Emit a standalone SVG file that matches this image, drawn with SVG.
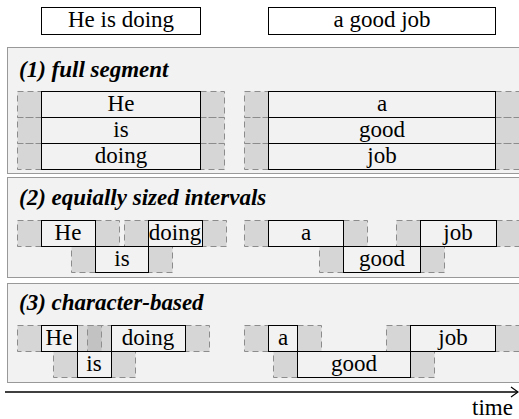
<svg xmlns="http://www.w3.org/2000/svg" width="519" height="419" viewBox="0 0 519 419">
<style>
.panel{fill:#f2f2f2;stroke:#999;stroke-width:1}
.pad{fill:rgb(150,150,150);fill-opacity:0.3;stroke:#8c8c8c;stroke-width:1;stroke-dasharray:6 4}
.w{fill:none;stroke:#000;stroke-width:1}
.top{fill:#fff;stroke:#000;stroke-width:1}
</style>
<rect width="519" height="419" fill="#fff"/>
<g id="sentence-left"><rect class="top" x="41.5" y="7.5" width="159" height="27"/><text font-family="Liberation Serif" font-size="23" text-anchor="middle" x="121" y="27">He is doing</text></g>
<g id="sentence-right"><rect class="top" x="268.5" y="7.5" width="227" height="27"/><text font-family="Liberation Serif" font-size="23" text-anchor="middle" x="382" y="27">a good job</text></g>

<g id="panel1">
<rect class="panel" x="7.5" y="47.5" width="530" height="126"/>
<text font-family="Liberation Serif" font-size="23" font-weight="bold" font-style="italic" x="19" y="77">(1) full segment</text>
<rect class="pad" x="17.5" y="91.5" width="24" height="26"/><rect class="pad" x="200.5" y="91.5" width="24" height="26"/>
<rect class="pad" x="17.5" y="117.5" width="24" height="26"/><rect class="pad" x="200.5" y="117.5" width="24" height="26"/>
<rect class="pad" x="17.5" y="143.5" width="24" height="26"/><rect class="pad" x="200.5" y="143.5" width="24" height="26"/>
<rect class="pad" x="244.5" y="91.5" width="24" height="26"/><rect class="pad" x="495.5" y="91.5" width="24" height="26"/>
<rect class="pad" x="244.5" y="117.5" width="24" height="26"/><rect class="pad" x="495.5" y="117.5" width="24" height="26"/>
<rect class="pad" x="244.5" y="143.5" width="24" height="26"/><rect class="pad" x="495.5" y="143.5" width="24" height="26"/>
<g id="p1-He"><rect class="w" x="41.5" y="91.5" width="159" height="26"/><text font-family="Liberation Serif" font-size="23" text-anchor="middle" x="121" y="111">He</text></g>
<g id="p1-is"><rect class="w" x="41.5" y="117.5" width="159" height="26"/><text font-family="Liberation Serif" font-size="23" text-anchor="middle" x="121" y="137">is</text></g>
<g id="p1-doing"><rect class="w" x="41.5" y="143.5" width="159" height="26"/><text font-family="Liberation Serif" font-size="23" text-anchor="middle" x="121" y="163">doing</text></g>
<g id="p1-a"><rect class="w" x="268.5" y="91.5" width="227" height="26"/><text font-family="Liberation Serif" font-size="23" text-anchor="middle" x="382" y="111">a</text></g>
<g id="p1-good"><rect class="w" x="268.5" y="117.5" width="227" height="26"/><text font-family="Liberation Serif" font-size="23" text-anchor="middle" x="382" y="137">good</text></g>
<g id="p1-job"><rect class="w" x="268.5" y="143.5" width="227" height="26"/><text font-family="Liberation Serif" font-size="23" text-anchor="middle" x="382" y="163">job</text></g>
</g>

<g id="panel2">
<rect class="panel" x="7.5" y="177.5" width="530" height="100"/>
<text font-family="Liberation Serif" font-size="23" font-weight="bold" font-style="italic" x="19" y="205">(2) equially sized intervals</text>
<rect class="pad" x="17.5" y="220.5" width="24" height="26"/><rect class="pad" x="95.5" y="220.5" width="24" height="26"/>
<rect class="pad" x="124.5" y="220.5" width="24" height="26"/><rect class="pad" x="202.5" y="220.5" width="24" height="26"/>
<rect class="pad" x="71.5" y="246.5" width="24" height="26"/><rect class="pad" x="148.5" y="246.5" width="24" height="26"/>
<rect class="pad" x="244.5" y="220.5" width="24" height="26"/><rect class="pad" x="343.5" y="220.5" width="24" height="26"/>
<rect class="pad" x="396.5" y="220.5" width="24" height="26"/><rect class="pad" x="496.5" y="220.5" width="24" height="26"/>
<rect class="pad" x="319.5" y="246.5" width="24" height="26"/><rect class="pad" x="420.5" y="246.5" width="24" height="26"/>
<g id="p2-He"><rect class="w" x="41.5" y="220.5" width="54" height="26"/><text font-family="Liberation Serif" font-size="23" text-anchor="middle" x="68" y="240">He</text></g>
<g id="p2-is"><rect class="w" x="95.5" y="246.5" width="53" height="26"/><text font-family="Liberation Serif" font-size="23" text-anchor="middle" x="122" y="266">is</text></g>
<g id="p2-doing"><rect class="w" x="148.5" y="220.5" width="54" height="26"/><text font-family="Liberation Serif" font-size="23" text-anchor="middle" x="175" y="240">doing</text></g>
<g id="p2-a"><rect class="w" x="268.5" y="220.5" width="75" height="26"/><text font-family="Liberation Serif" font-size="23" text-anchor="middle" x="306" y="240">a</text></g>
<g id="p2-good"><rect class="w" x="343.5" y="246.5" width="77" height="26"/><text font-family="Liberation Serif" font-size="23" text-anchor="middle" x="382" y="266">good</text></g>
<g id="p2-job"><rect class="w" x="420.5" y="220.5" width="76" height="26"/><text font-family="Liberation Serif" font-size="23" text-anchor="middle" x="458" y="240">job</text></g>
</g>

<g id="panel3">
<rect class="panel" x="7.5" y="283.5" width="530" height="99"/>
<text font-family="Liberation Serif" font-size="23" font-weight="bold" font-style="italic" x="19" y="310">(3) character-based</text>
<rect class="pad" x="17.5" y="325.5" width="24" height="26"/><rect class="pad" x="77.5" y="325.5" width="24" height="26"/>
<rect class="pad" x="87.5" y="325.5" width="24" height="26"/><rect class="pad" x="185.5" y="325.5" width="24" height="26"/>
<rect class="pad" x="53.5" y="351.5" width="24" height="26"/><rect class="pad" x="111.5" y="351.5" width="24" height="26"/>
<rect class="pad" x="244.5" y="325.5" width="24" height="26"/><rect class="pad" x="297.5" y="325.5" width="24" height="26"/>
<rect class="pad" x="386.5" y="325.5" width="24" height="26"/><rect class="pad" x="495.5" y="325.5" width="24" height="26"/>
<rect class="pad" x="273.5" y="351.5" width="24" height="26"/><rect class="pad" x="410.5" y="351.5" width="24" height="26"/>
<g id="p3-He"><rect class="w" x="41.5" y="325.5" width="36" height="26"/><text font-family="Liberation Serif" font-size="23" text-anchor="middle" x="59" y="345">He</text></g>
<g id="p3-is"><rect class="w" x="77.5" y="351.5" width="34" height="26"/><text font-family="Liberation Serif" font-size="23" text-anchor="middle" x="94" y="371">is</text></g>
<g id="p3-doing"><rect class="w" x="111.5" y="325.5" width="74" height="26"/><text font-family="Liberation Serif" font-size="23" text-anchor="middle" x="148" y="345">doing</text></g>
<g id="p3-a"><rect class="w" x="268.5" y="325.5" width="29" height="26"/><text font-family="Liberation Serif" font-size="23" text-anchor="middle" x="283" y="345">a</text></g>
<g id="p3-good"><rect class="w" x="297.5" y="351.5" width="113" height="26"/><text font-family="Liberation Serif" font-size="23" text-anchor="middle" x="354" y="371">good</text></g>
<g id="p3-job"><rect class="w" x="410.5" y="325.5" width="85" height="26"/><text font-family="Liberation Serif" font-size="23" text-anchor="middle" x="453" y="345">job</text></g>
</g>

<g id="connectors">
<line x1="5" y1="392" x2="517" y2="392" stroke="#000" stroke-width="1.5"/>
<path d="M511,387 L518,392 L511,397" fill="none" stroke="#000" stroke-width="1.2"/>
</g>
<text font-family="Liberation Serif" font-size="23" x="472" y="415">time</text>
</svg>
